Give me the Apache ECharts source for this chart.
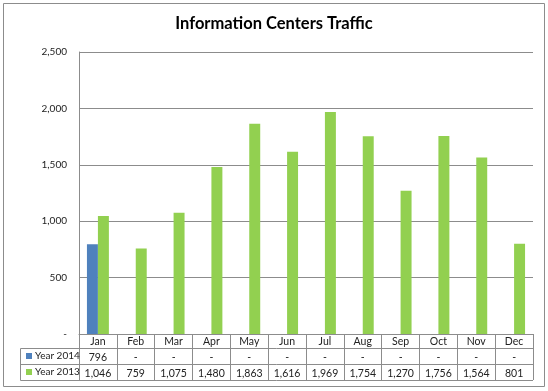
<!DOCTYPE html>
<html>
<head>
<meta charset="utf-8">
<script src="https://cdn.jsdelivr.net/npm/echarts@6/dist/echarts.min.js"></script>
<style>html,body{margin:0;padding:0;background:#fff}#c{width:548px;height:391px}</style>
</head>
<body>
<div id="c"></div>
<script>
var months = ['Jan','Feb','Mar','Apr','May','Jun','Jul','Aug','Sep','Oct','Nov','Dec'];
var year2014 = [796, null, null, null, null, null, null, null, null, null, null, null];
var year2013 = [1046, 759, 1075, 1480, 1863, 1616, 1969, 1754, 1270, 1756, 1564, 801];
var yTicks = [0, 500, 1000, 1500, 2000, 2500];

function fmt(v) {
  if (v === null || v === undefined || v === 0) return '-';
  return Number(v).toLocaleString('en-US');
}

var FONT = 'Lato';
var GRAY = '#8c8c8c';
var TXT = '#222';

var chart = echarts.init(document.getElementById('c'));
var tableRowAxis = function (vals, offset) {
  return {
    type: 'category', position: 'bottom', offset: offset, gridIndex: 0,
    data: vals.map(fmt),
    axisLine: { show: false }, axisTick: { show: false },
    axisLabel: { fontFamily: FONT, fontSize: 10.5, color: TXT, margin: 3, interval: 0 }
  };
};
var legendFor = function (name, top) {
  return {
    data: [name], left: 26, top: top, padding: 0,
    icon: 'rect', itemWidth: 6, itemHeight: 6, itemGap: 0,
    textStyle: { fontFamily: FONT, fontSize: 10, color: TXT, padding: [0, 0, 0, -2] },
    selectedMode: false
  };
};
chart.setOption({
  animation: false,
  title: {
    text: 'Information Centers Traffic', left: 'center', top: 10,
    textStyle: { fontFamily: FONT, fontWeight: 'bold', fontSize: 16.5, color: '#000' }
  },
  legend: [legendFor('Year 2014', 351), legendFor('Year 2013', 367)],
  grid: { left: 79, right: 15, top: 52, bottom: 57 },
  yAxis: {
    type: 'value', min: yTicks[0], max: yTicks[yTicks.length - 1], interval: 500,
    axisLine: { show: true, lineStyle: { color: GRAY } },
    axisTick: { show: false },
    splitLine: { lineStyle: { color: GRAY } },
    axisLabel: { fontFamily: FONT, fontSize: 10, color: TXT, margin: 12, formatter: fmt }
  },
  xAxis: [
    {
      type: 'category', data: months,
      axisLine: { lineStyle: { color: GRAY } },
      axisTick: { show: true, length: 46, interval: 0, lineStyle: { color: GRAY } },
      axisLabel: { fontFamily: FONT, fontSize: 10.5, color: TXT, margin: 2, interval: 0 }
    },
    tableRowAxis(year2014, 15),
    tableRowAxis(year2013, 31)
  ],
  graphic: [
    { type: 'rect', shape: { x: 3.5, y: 3.5, width: 541, height: 383 }, style: { fill: 'none', stroke: GRAY, lineWidth: 1 }, silent: true },
    { type: 'line', shape: { x1: 20.5, y1: 348.5, x2: 533, y2: 348.5 }, style: { stroke: GRAY, lineWidth: 1 } },
    { type: 'line', shape: { x1: 20.5, y1: 364.5, x2: 533, y2: 364.5 }, style: { stroke: GRAY, lineWidth: 1 } },
    { type: 'line', shape: { x1: 20.5, y1: 380.5, x2: 533, y2: 380.5 }, style: { stroke: GRAY, lineWidth: 1 } },
    { type: 'line', shape: { x1: 20.5, y1: 348.5, x2: 20.5, y2: 380.5 }, style: { stroke: GRAY, lineWidth: 1 } }
  ],
  series: [
    { name: 'Year 2014', type: 'bar', data: year2014, itemStyle: { color: '#4F81BD' }, barGap: '0%', barCategoryGap: '42%' },
    { name: 'Year 2013', type: 'bar', data: year2013, itemStyle: { color: '#92D050' }, barGap: '0%', barCategoryGap: '42%' }
  ]
});
</script>
</body>
</html>
